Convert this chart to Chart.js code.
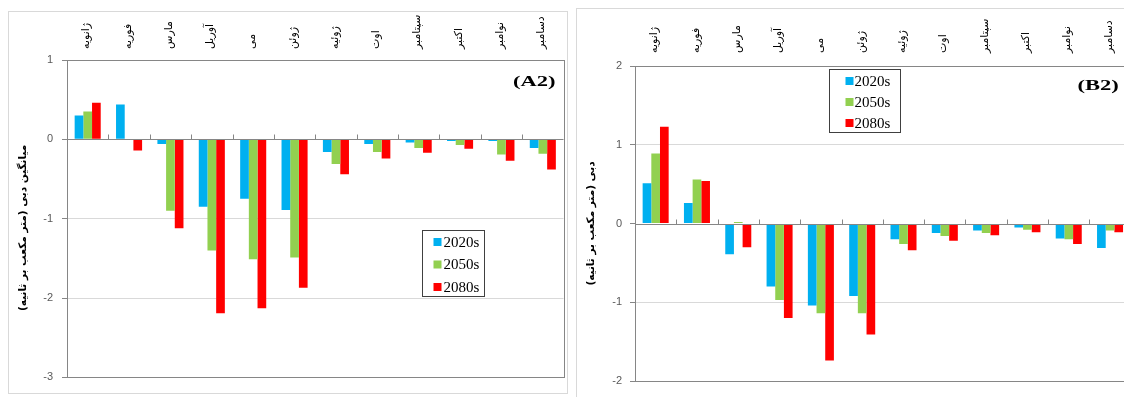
<!DOCTYPE html>
<html>
<head>
<meta charset="utf-8">
<script src="https://cdn.jsdelivr.net/npm/chart.js@4.4.1/dist/chart.umd.min.js"></script>
<style>
  html, body { margin: 0; padding: 0; background: #ffffff; width: 1124px; height: 397px; overflow: hidden; position: relative; }
  .panel { position: absolute; border: 1px solid #d9d9d9; box-sizing: border-box; background: #fff; }
  .panel canvas { position: absolute; left: 0; top: 0; }
</style>
</head>
<body>
<div class="panel" id="pA" style="left:8px; top:11px; width:560px; height:383px;">
  <canvas id="cA" width="558" height="381"></canvas>
</div>
<div class="panel" id="pB" style="left:576px; top:8px; width:564px; height:400px;">
  <canvas id="cB" width="562" height="396"></canvas>
</div>
<script>
// ---- data ----
const months = ['ژانویه','فوریه','مارس','آوریل','می','ژوئن','ژوئیه','اوت','سپتامبر','اکتبر','نوامبر','دسامبر'];
const seriesLabels = ['2020s','2050s','2080s'];
const seriesColors = ['#00B0F0','#92D050','#FF0000'];

const a2_2020s = [0.30, 0.44, -0.06, -0.85, -0.75, -0.89, -0.16, -0.06, -0.04, -0.02, -0.02, -0.11];
const a2_2050s = [0.35, 0.00, -0.90, -1.40, -1.51, -1.49, -0.31, -0.16, -0.11, -0.07, -0.19, -0.18];
const a2_2080s = [0.46, -0.14, -1.12, -2.19, -2.13, -1.87, -0.44, -0.24, -0.17, -0.12, -0.27, -0.38];

const b2_2020s = [0.51, 0.26, -0.39, -0.80, -1.04, -0.92, -0.20, -0.12, -0.09, -0.05, -0.19, -0.31];
const b2_2050s = [0.89, 0.56, 0.02, -0.97, -1.14, -1.14, -0.26, -0.16, -0.12, -0.08, -0.20, -0.09];
const b2_2080s = [1.23, 0.54, -0.30, -1.20, -1.74, -1.41, -0.34, -0.22, -0.15, -0.11, -0.26, -0.11];

const a2Range = [-3, 1];
const b2Range = [-2, 2];
const a2Title = '\u200F\u00A0\u00A0\u00A0\u00A0\u00A0میانگین دبی (متر مکعب بر ثانیه)\u200F';
const b2Title = '\u200Fدبی (متر مکعب بر ثانیه)\u200F';
const a2Tag = '(A2)';
const b2Tag = '(B2)';

// ---- drawing helpers ----
const AXIS = '#868686';
const GRID = '#d9d9d9';

const decorPlugin = {
  id: 'decor',
  afterDatasetsDraw(chart, args, o) {
    const ctx = chart.ctx;
    const a = chart.chartArea;
    const xs = chart.scales.x;
    const ys = chart.scales.y;
    ctx.save();
    ctx.strokeStyle = AXIS;
    ctx.lineWidth = 1;
    ctx.strokeRect(Math.round(a.left) + 0.5, Math.round(a.top) + 0.5, Math.round(a.right - a.left), Math.round(a.bottom - a.top));
    const y0 = Math.round(ys.getPixelForValue(0)) + 0.5;
    ctx.beginPath();
    ctx.moveTo(a.left, y0); ctx.lineTo(a.right, y0);
    for (let i = 1; i < chart.data.labels.length; i++) {
      const xp = Math.round((xs.getPixelForValue(i - 1) + xs.getPixelForValue(i)) / 2) + 0.5;
      ctx.moveTo(xp, y0); ctx.lineTo(xp, y0 - 5);
    }
    ctx.stroke();

    ctx.fillStyle = '#000';
    ctx.font = 'bold 15px "Liberation Serif"';
    ctx.textAlign = 'right';
    ctx.textBaseline = 'middle';
    ctx.translate(a.right - o.tagRight, a.top + o.tagY);
    ctx.scale(1.5, 1);
    ctx.fillText(o.tag, 0, 0);
    ctx.restore();

    ctx.save();
    const L = o.legend;
    const bx = Math.round(a.left + L.x) + 0.5, by = Math.round(a.top + L.y) + 0.5;
    ctx.strokeStyle = '#404040';
    ctx.lineWidth = 1;
    ctx.strokeRect(bx, by, L.w, L.h);
    ctx.font = '15px "Liberation Serif"';
    ctx.textAlign = 'left';
    ctx.textBaseline = 'middle';
    chart.data.datasets.forEach((ds, i) => {
      const cy = by + L.row0 + i * L.rowGap;
      ctx.fillStyle = ds.backgroundColor;
      ctx.fillRect(bx + L.sq, cy - 4, 8, 8);
      ctx.fillStyle = '#000';
      ctx.fillText(ds.label, bx + L.tx, cy + 1);
    });
    ctx.restore();
  }
};

function makeChart(id, vals, range, title, tag, lay) {
  const datasets = seriesLabels.map((lab, i) => ({
    label: lab,
    data: vals[i],
    backgroundColor: seriesColors[i],
    borderWidth: 0,
    categoryPercentage: 0.63,
    barPercentage: 1.0
  }));
  return new Chart(document.getElementById(id), {
    type: 'bar',
    data: { labels: months, datasets },
    plugins: [decorPlugin],
    options: {
      responsive: false,
      animation: false,
      devicePixelRatio: 1,
      layout: { padding: { left: 0, top: 0, right: lay.padRight, bottom: lay.padBottom } },
      plugins: {
        legend: { display: false },
        tooltip: { enabled: false },
        decor: { tag, tagRight: lay.tagRight, tagY: lay.tagY, legend: lay.legend }
      },
      scales: {
        x: {
          position: 'top',
          offset: true,
          grid: { display: false, drawTicks: false },
          border: { display: false },
          ticks: {
            autoSkip: false, minRotation: 90, maxRotation: 90,
            padding: lay.xPad, labelOffset: 12,
            color: '#000',
            font: { family: '"DejaVu Sans"', size: 11 }
          },
          afterFit(s) { s.height = lay.xH; }
        },
        y: {
          min: range[0], max: range[1],
          ticks: {
            stepSize: 1, padding: lay.yPad, color: '#595959',
            font: { family: '"Liberation Sans"', size: 11 }
          },
          grid: {
            color: (c) => (c.tick && c.tick.value !== range[0] && c.tick.value !== range[1] && c.tick.value !== 0) ? GRID : 'rgba(0,0,0,0)',
            tickColor: AXIS, tickLength: 5, drawTicks: true
          },
          border: { display: false },
          title: {
            display: true, text: title, color: '#000',
            font: { family: '"DejaVu Sans"', size: 10.5, weight: 'bold' },
            padding: { top: lay.titlePad, bottom: 0 }
          },
          afterFit(s) { s.width = lay.yW; }
        }
      }
    }
  });
}

makeChart('cA', [a2_2020s, a2_2050s, a2_2080s], a2Range, a2Title, a2Tag, {
  padRight: 3.5, padBottom: 11, xH: 48, yW: 58, xPad: 11, yPad: 9, titlePad: 7.5,
  tagRight: 8, tagY: 22,
  legend: { x: 355, y: 170, w: 62, h: 66, sq: 11, tx: 21, row0: 11.5, rowGap: 22.5 }
});
makeChart('cB', [b2_2020s, b2_2050s, b2_2080s], b2Range, b2Title, b2Tag, {
  padRight: 8.3, padBottom: 24, xH: 57, yW: 58, xPad: 13, yPad: 8, titlePad: 8,
  tagRight: 12, tagY: 20,
  legend: { x: 194, y: 3, w: 71, h: 63, sq: 16, tx: 25, row0: 11.5, rowGap: 21 }
});
</script>
</body>
</html>
